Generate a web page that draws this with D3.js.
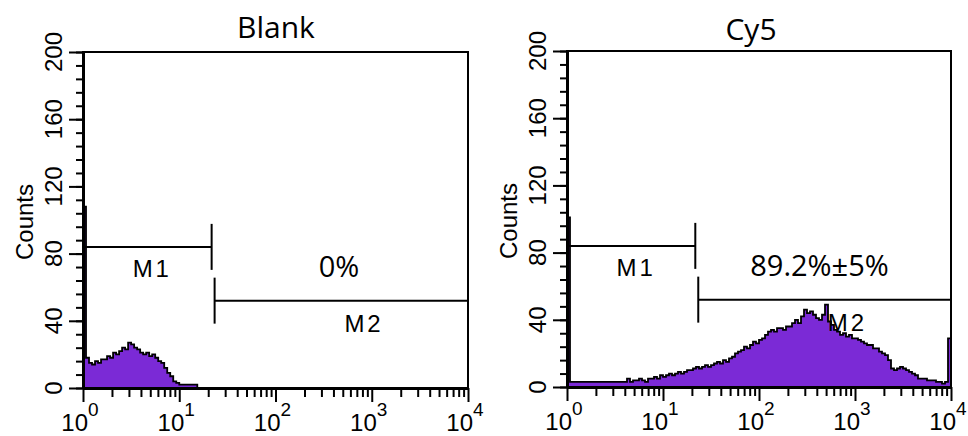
<!DOCTYPE html>
<html>
<head>
	<meta charset="utf-8">
	<title>Flow cytometry histograms</title>
	<script src="https://d3js.org/d3.v7.min.js"></script>
	<style>
		body { margin: 0; background: #fff; }
	</style>
</head>
<body>
	<div id="chart"></div>

	<script type="text/javascript">

//<------------------------------------DATA------------------------------------------------>
		// fluorescence axis (log) and counts axis
		var xDecades = [1, 10, 100, 1000, 10000];
		var xExponents = [0, 1, 2, 3, 4];
		var yTicks = [0, 40, 80, 120, 160, 200];
		var yMinorStep = 8;

		// histogram counts, 32 bins per decade starting at 10^0
		var binsPerDecade = 32;
		var blankCounts = [108, 18, 15, 14, 16, 15, 17, 17, 19, 18, 21, 20, 22, 24, 23, 27,
			26, 24, 23, 21, 20, 21, 19, 20, 18, 16, 15, 12, 9, 7, 4, 3,
			2, 2, 2, 2, 2, 2];
		var cy5Counts = [101, 3, 3, 3, 3, 3, 3, 3, 3, 3, 3, 3, 3, 3, 3, 3,
			3, 3, 3, 3, 5, 3, 4, 4, 5, 4, 3, 5, 5, 6, 5, 7,
			6, 7, 8, 7, 8, 9, 8, 9, 10, 10, 11, 12, 11, 12, 13, 12,
			13, 14, 15, 14, 16, 15, 17, 18, 20, 21, 22, 24, 23, 25, 27, 26,
			28, 29, 31, 33, 34, 33, 35, 35, 34, 36, 36, 38, 40, 38, 42, 46,
			44, 45, 43, 41, 40, 43, 49, 39, 37, 34, 33, 31, 32, 30, 31, 29,
			29, 28, 27, 26, 25, 25, 23, 23, 21, 20, 19, 16, 11, 10, 11, 12,
			11, 10, 9, 8, 7, 5, 5, 5, 4, 4, 4, 3, 3, 2, 3, 29];

		var panelTitles = ["Blank", "Cy5"];
		var gateNames = ["M1", "M2"];
		var gatePercents = ["0%", "89.2%\u00b15%"];

		// marker gates: [start, end] on fluorescence axis, and their count level
		var gateM1 = [1, 21.7];
		var gateM2 = [23.3, 10000];
		var gateLevels = [84, 52];
//<------------------------------------END DATA-------------------------------------------->

		var svg = d3.select("#chart")
			.append("svg")
				.attr("width", 968)
				.attr("height", 436)
				.style("display", "block");

		svg.append("rect")
			.attr("width", 968)
			.attr("height", 436)
			.style("fill", "#fff");

		var axisFont = "Arial, 'Liberation Sans', Helvetica, sans-serif";
		var titleFont = "'Open Sans', 'Noto Sans', sans-serif";
		var histFill = "#7b2ad6";

		var panels = [
			{title: panelTitles[0], counts: blankCounts, pct: gatePercents[0], pctAt: 2.66,
				left: 83, top: 52, width: 385, height: 336, titleX: 193, titleY: -14},
			{title: panelTitles[1], counts: cy5Counts, pct: gatePercents[1], pctAt: 2.63,
				left: 567, top: 51, width: 384, height: 336, titleX: 184, titleY: -11}
		];

		panels.forEach(function(p, pi){
			var w = p.width, h = p.height;
			var g = svg.append("g")
				.attr("transform", "translate(" + p.left + "," + p.top + ")");

			var xScale = d3.scaleLog().domain([1, 10000]).range([0, w]);
			var yScale = d3.scaleLinear().domain([0, 200]).range([h, 0]);

			// clip so the histogram stays inside the frame
			g.append("clipPath")
				.attr("id", "clip" + pi)
				.append("rect")
					.attr("width", w)
					.attr("height", h);

			//<----------------histogram------------------>
			var pts = p.counts.map(function(c, i){
				return {x: Math.pow(10, i / binsPerDecade), c: c};
			});
			var xEnd = Math.pow(10, p.counts.length / binsPerDecade);
			pts.push({x: xEnd, c: p.counts[p.counts.length - 1]});

			var area = d3.area()
				.x(function(d){ return xScale(d.x); })
				.y0(yScale(0))
				.y1(function(d){ return yScale(d.c); })
				.curve(d3.curveStepAfter);

			var outline = d3.line()
				.x(function(d){ return xScale(d.x); })
				.y(function(d){ return yScale(d.c); })
				.curve(d3.curveStepAfter);

			var hist = g.append("g").attr("clip-path", "url(#clip" + pi + ")");
			hist.append("path")
				.datum(pts)
				.attr("d", area)
				.style("fill", histFill);
			hist.append("path")
				.datum([{x: 1, c: 0}].concat(pts, [{x: xEnd, c: 0}]))
				.attr("d", outline)
				.style("fill", "none")
				.style("stroke", "#000")
				.style("stroke-width", 1.8);

			//<----------------frame------------------>
			g.append("rect")
				.attr("width", w)
				.attr("height", h)
				.style("fill", "none")
				.style("stroke", "#000")
				.style("stroke-width", 2);

			//<----------------axes------------------>
			var yMinor = d3.range(0, 201, yMinorStep);
			g.append("g")
				.call(d3.axisLeft(yScale).tickValues(yMinor).tickSize(7).tickSizeOuter(0).tickFormat(""));
			g.append("g")
				.call(d3.axisLeft(yScale).tickValues(yTicks).tickSize(14).tickSizeOuter(0).tickFormat(""));

			var xMinor = [];
			xDecades.slice(0, -1).forEach(function(d){
				for(var k = 2; k < 10; k++){ xMinor.push(d * k); }
			});
			g.append("g")
				.attr("transform", "translate(0," + h + ")")
				.call(d3.axisBottom(xScale).tickValues(xMinor).tickSize(9).tickSizeOuter(0).tickFormat(""));
			g.append("g")
				.attr("transform", "translate(0," + h + ")")
				.call(d3.axisBottom(xScale).tickValues(xDecades).tickSize(14).tickSizeOuter(0).tickFormat(""));

			g.selectAll(".domain").style("stroke-width", 3);
			g.selectAll(".tick line").style("stroke-width", 2);

			// y tick labels, rotated
			g.selectAll(".ylab")
				.data(yTicks)
				.enter().append("text")
					.attr("class", "ylab")
					.attr("transform", function(d){ return "translate(-21," + yScale(d) + ") rotate(-90)"; })
					.style("text-anchor", "middle")
					.style("font-family", axisFont)
					.style("font-size", "24px")
					.text(function(d){ return d; });

			g.append("text")
				.attr("transform", "translate(-50," + (h / 2 + 2) + ") rotate(-90)")
				.style("text-anchor", "middle")
				.style("font-family", axisFont)
				.style("font-size", "24px")
				.text("Counts");

			// x tick labels as 10 with superscript exponent
			var xl = g.selectAll(".xlab")
				.data(xExponents)
				.enter().append("text")
					.attr("class", "xlab")
					.attr("x", function(d){ return xScale(Math.pow(10, d)) - 3; })
					.attr("y", h + 43)
					.style("text-anchor", "middle")
					.style("font-family", axisFont)
					.style("font-size", "24px");
			xl.append("tspan").text("10");
			xl.append("tspan")
				.attr("dy", -15)
				.style("font-size", "19px")
				.text(function(d){ return d; });

			//<----------------gates------------------>
			var gates = [gateM1, gateM2];
			gates.forEach(function(gr, gi){
				var gy = yScale(gateLevels[gi]);
				g.append("line")
					.attr("x1", xScale(gr[0])).attr("x2", xScale(gr[1]))
					.attr("y1", gy).attr("y2", gy)
					.style("stroke", "#000").style("stroke-width", 2);
				var tx = gi == 0 ? xScale(gr[1]) : xScale(gr[0]);
				g.append("line")
					.attr("x1", tx).attr("x2", tx)
					.attr("y1", gy - 23).attr("y2", gy + 23)
					.style("stroke", "#000").style("stroke-width", 2);
			});

			g.append("text")
				.attr("x", xScale(Math.pow(10, 0.72)))
				.attr("y", yScale(66))
				.style("text-anchor", "middle")
				.style("font-family", axisFont)
				.style("font-size", "24px")
				.style("letter-spacing", "3px")
				.text(gateNames[0]);
			g.append("text")
				.attr("x", xScale(Math.pow(10, 2.92)))
				.attr("y", yScale(33.6))
				.style("text-anchor", "middle")
				.style("font-family", axisFont)
				.style("font-size", "24px")
				.style("letter-spacing", "3px")
				.text(gateNames[1]);

			g.append("text")
				.attr("x", xScale(Math.pow(10, p.pctAt)))
				.attr("y", yScale(66))
				.style("text-anchor", "middle")
				.style("font-family", titleFont)
				.style("font-size", "29px")
				.text(p.pct);

			//<----------------title------------------>
			g.append("text")
				.attr("x", p.titleX)
				.attr("y", p.titleY)
				.style("text-anchor", "middle")
				.style("font-family", titleFont)
				.style("font-size", "30px")
				.text(p.title);
		});

	</script>
</body>
</html>
